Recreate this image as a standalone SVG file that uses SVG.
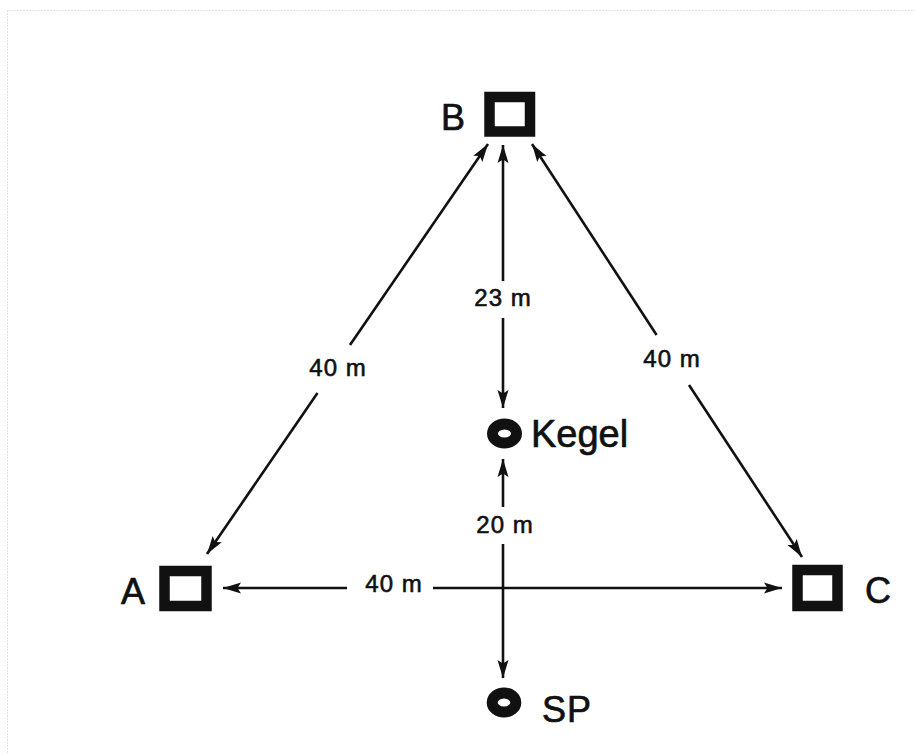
<svg xmlns="http://www.w3.org/2000/svg" width="915" height="753" viewBox="0 0 915 753">
<style>
.box{fill:#fff;stroke:#111;stroke-width:10.5}
.ring{fill:none;stroke:#111;stroke-width:11}
.name{font-family:"Liberation Sans",Arial,sans-serif;font-size:36px;fill:#111;stroke:#111;stroke-width:0.7}
.dist{font-family:"Liberation Sans",Arial,sans-serif;font-size:24px;fill:#111;stroke:#111;stroke-width:0.6;text-anchor:middle;letter-spacing:1px}
.ln{stroke:#111;stroke-width:2.6;fill:none}
.frame{stroke:#e2e2e2;stroke-width:1;fill:none;stroke-dasharray:2 1}
</style>
<defs>
<marker id="ah" markerUnits="userSpaceOnUse" markerWidth="19" markerHeight="13" refX="18" refY="6.5" orient="auto-start-reverse">
<path d="M0,1 L18,6.5 L0,12 L3.5,6.5 z" fill="#111"/>
</marker>
</defs>
<rect width="915" height="753" fill="#fff"/>
<path class="frame" d="M8,10.5 H915 M7.5,10 V753"/>
<g id="connectors">
<line class="ln" x1="503" y1="281" x2="503" y2="145" marker-end="url(#ah)"/>
<line class="ln" x1="503" y1="318" x2="503" y2="408" marker-end="url(#ah)"/>
<line class="ln" x1="503" y1="507" x2="503" y2="459" marker-end="url(#ah)"/>
<line class="ln" x1="503" y1="544" x2="503" y2="678" marker-end="url(#ah)"/>
<line class="ln" x1="347" y1="588" x2="223" y2="588" marker-end="url(#ah)"/>
<line class="ln" x1="433" y1="588" x2="782" y2="588" marker-end="url(#ah)"/>
<line class="ln" x1="350" y1="345" x2="488" y2="144" marker-end="url(#ah)"/>
<line class="ln" x1="317.5" y1="393" x2="207" y2="554" marker-end="url(#ah)"/>
<line class="ln" x1="656.6" y1="335" x2="532" y2="144" marker-end="url(#ah)"/>
<line class="ln" x1="689" y1="385" x2="802" y2="557" marker-end="url(#ah)"/>
<text class="dist" x="503" y="306">23 m</text>
<text class="dist" x="505" y="533">20 m</text>
<text class="dist" x="338" y="376">40 m</text>
<text class="dist" x="672" y="367">40 m</text>
<text class="dist" x="394" y="592">40 m</text>
</g>
<g id="nodeB">
<rect class="box" x="489.5" y="97" width="40.5" height="34.5"/>
<text class="name" x="441" y="130">B</text>
</g>
<g id="nodeA">
<rect class="box" x="164.5" y="571" width="42" height="35"/>
<text class="name" x="121" y="604">A</text>
</g>
<g id="nodeC">
<rect class="box" x="797.5" y="570" width="40" height="36"/>
<text class="name" x="865" y="603">C</text>
</g>
<g id="kegel">
<ellipse class="ring" cx="504.5" cy="433.5" rx="12" ry="9.5"/>
<text class="name" x="531" y="447" style="font-size:38px">Kegel</text>
</g>
<g id="sp">
<ellipse class="ring" cx="504" cy="702.5" rx="11.8" ry="9.5"/>
<text class="name" x="542" y="722" style="letter-spacing:1px">SP</text>
</g>
</svg>
